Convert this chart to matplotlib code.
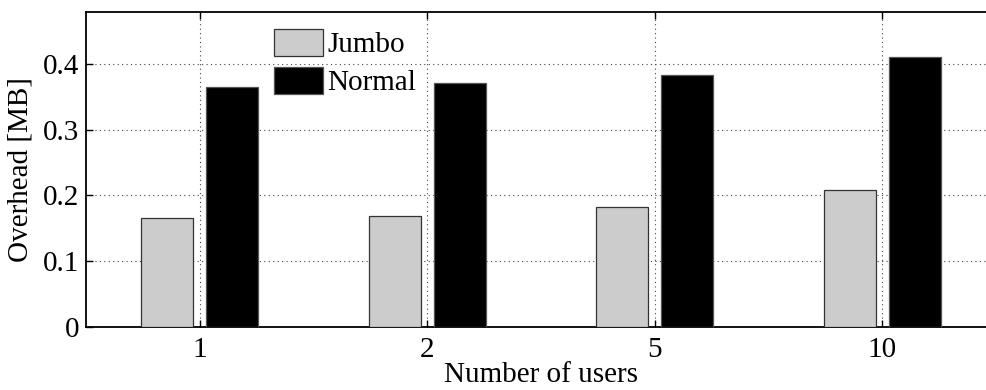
import matplotlib
matplotlib.use("Agg")
import matplotlib.pyplot as plt
import numpy as np

categories = ["1", "2", "5", "10"]
jumbo = [0.165, 0.169, 0.183, 0.209]
normal = [0.3645, 0.371, 0.383, 0.411]
series_names = ["Jumbo", "Normal"]
yticks = [0, 0.1, 0.2, 0.3, 0.4]

plt.rcParams['font.family'] = ['Liberation Serif', 'DejaVu Serif']
plt.rcParams['mathtext.fontset'] = 'stix'
FS = 21

fig = plt.figure(figsize=(9.87, 3.9), dpi=100)
ax = fig.add_axes([86/987, 63/390, 910/987, 315/390])

x = np.arange(len(categories))
w = 0.23
off = 0.143
ax.bar(x - off, jumbo, width=w, color='#cccccc', edgecolor='#333333', linewidth=0.9,
       label=series_names[0], zorder=3)
ax.bar(x + off, normal, width=w, color='black', edgecolor='#555555', linewidth=0.9,
       label=series_names[1], zorder=3)

ax.set_xlim(-0.5, 3.5)
ax.set_ylim(0, 0.479)
ax.set_xticks(x)
ax.set_xticklabels(categories)
ax.set_yticks(yticks)
ax.set_yticklabels([f"{v:g}" for v in yticks])

ax.grid(True, linestyle=(0, (1, 3)), color='#444444', linewidth=0.8, zorder=0)
ax.set_axisbelow(True)

ax.tick_params(axis='both', direction='in', labelsize=FS, length=5, width=1,
               top=True, right=True)
ax.tick_params(axis='x', pad=7)
ax.tick_params(axis='y', pad=5)
for s in ax.spines.values():
    s.set_linewidth(1.3)

ax.set_xlabel("Number of users", fontsize=FS)
ax.xaxis.set_label_coords(0.5, -0.112)
ax.set_ylabel("Overhead [MB]", fontsize=FS)
ax.yaxis.set_label_coords(-0.058, 0.5)

leg = fig.legend(loc='upper left', bbox_to_anchor=(274/987, 1 - 29/390), frameon=False,
                 fontsize=FS, handlelength=1.68, handleheight=1.05, labelspacing=0.28,
                 handletextpad=0.15, borderpad=0, borderaxespad=0)

fig.savefig("out.png", dpi=100)
